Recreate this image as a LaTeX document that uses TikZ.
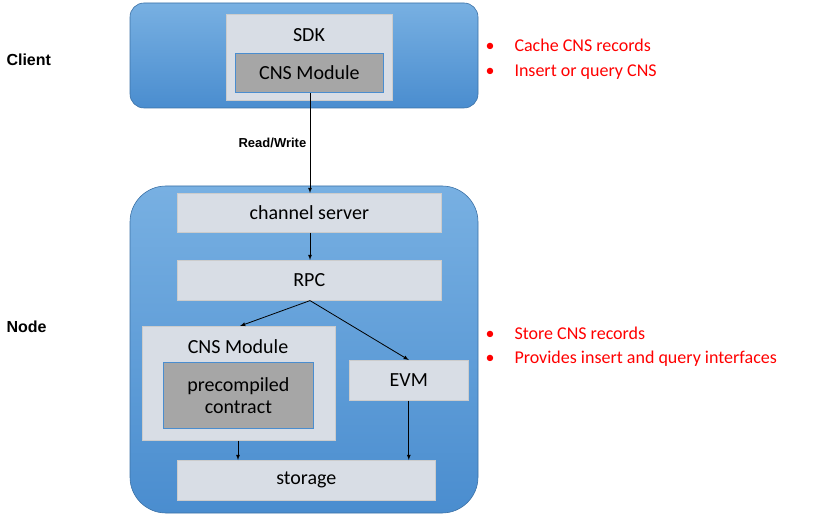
\documentclass[tikz,border=0pt]{standalone}
\usepackage{fontspec}
\setmainfont{Carlito}
\newfontfamily\arialfont{Liberation Sans}
\usetikzlibrary{positioning}
\definecolor{panelblue}{RGB}{74,141,207}
\definecolor{paneltop}{RGB}{120,176,226}
\definecolor{boxgray}{RGB}{216,221,229}
\definecolor{modgray}{RGB}{166,166,166}
\definecolor{noteRed}{RGB}{255,0,0}
\tikzset{
  panel/.style={rounded corners=#1, draw=panelblue!80!black, line width=0.6pt, top color=paneltop, bottom color=panelblue},
  layer/.style={draw=white!80!black, fill=boxgray, line width=0.6pt, font=\fontsize{20}{20}\selectfont},
  module/.style={draw=panelblue, fill=modgray, line width=0.8pt, font=\fontsize{20}{20}\selectfont},
  side/.style={font=\arialfont\bfseries\fontsize{16}{16}\selectfont, anchor=west},
  note/.style={text=noteRed, font=\fontsize{18}{18}\selectfont, anchor=west},
  flow/.style={-latex, line width=0.8pt}
}
\begin{document}
\begin{tikzpicture}[x=1pt, y=-1pt]
\useasboundingbox (0,0) rectangle (840,518);
% client side
\draw[panel=14pt] (130,3) rectangle (478,108);
\node[layer, minimum width=166pt, minimum height=86pt, anchor=north west] (sdk) at (226,14) {};
\node[font=\fontsize{20}{20}\selectfont] (sdktext) at (309,35) {SDK};
\node[module, minimum width=148pt, minimum height=39pt, anchor=north west] (cnsc) at (235,53) {CNS Module};
\node[side] (client) at (3,60) {Client};
% node side
\draw[panel=36pt] (130,186) rectangle (478,513);
\node[layer, minimum width=264pt, minimum height=39pt, anchor=north west] (chan) at (177,193) {channel server};
\node[layer, minimum width=264pt, minimum height=40pt, anchor=north west] (rpc) at (177,260) {RPC};
\node[layer, minimum width=193pt, minimum height=114pt, anchor=north west] (cnsn) at (142,326) {};
\node[font=\fontsize{20}{20}\selectfont] (cnsntext) at (238,347) {CNS Module};
\node[module, minimum width=150pt, minimum height=66pt, anchor=north west, align=center] (pre) at (163,362) {precompiled\\[2pt]contract};
\node[layer, minimum width=119pt, minimum height=40pt, anchor=north west] (evm) at (349,360) {EVM};
\node[layer, minimum width=258pt, minimum height=40pt, anchor=north west] (store) at (177,460) {storage};
\node[side] (nodelbl) at (3,327) {Node};
% connectors
\draw[flow] (cnsc.south -| 310,0) -- (chan.north -| 310,0) node[midway, left, font=\arialfont\bfseries\fontsize{13}{13}\selectfont] {Read/Write};
\draw[flow] (chan.south -| 310,0) -- (rpc.north -| 310,0);
\draw[flow] (rpc.south -| 310,0) -- (cnsn.north -| 240,0);
\draw[flow] (rpc.south -| 310,0) -- (evm.north);
\draw[flow] (cnsn.south -| 238,0) -- (store.north -| 238,0);
\draw[flow] (evm.south) -- (store.north -| evm.south);
% notes
\node[note] (n1) at (482,45) {\textbullet\hspace{20pt}Cache CNS records};
\node[note] (n2) at (482,72) {\textbullet\hspace{20pt}Insert or query CNS};
\node[note] (n3) at (482,333) {\textbullet\hspace{20pt}Store CNS records};
\node[note] (n4) at (482,359) {\textbullet\hspace{20pt}Provides insert and query interfaces};
\end{tikzpicture}
\end{document}
